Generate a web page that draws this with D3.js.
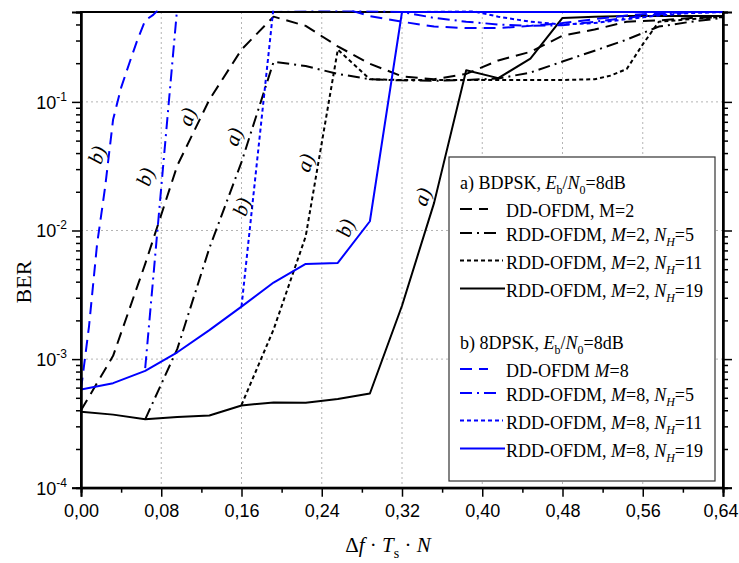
<!DOCTYPE html>
<html><head><meta charset="utf-8">
<script src="https://cdn.jsdelivr.net/npm/d3@7"></script>
<style>body{margin:0;background:#fff}</style>
</head><body>
<svg id="c" width="739" height="563"></svg>
<script>
// ---------- data ----------
const xMajorTicks = [0, 0.08, 0.16, 0.24, 0.32, 0.40, 0.48, 0.56, 0.64];
const xMinorTicks = [0.04, 0.12, 0.20, 0.28, 0.36, 0.44, 0.52, 0.60];
const xTickLabels = ["0,00","0,08","0,16","0,24","0,32","0,40","0,48","0,56","0,64"];
const yMajorTicks = [1e-4, 1e-3, 1e-2, 1e-1];
const yTickExponents = ["-4", "-3", "-2", "-1"];
const yMinorMultipliers = [2,3,4,5,6,7,8,9];

// a) BDPSK, M=2
const ddM2X  = [0,0.032,0.064,0.096,0.128,0.16,0.192,0.224,0.256,0.288,0.32,0.352,0.384,0.416,0.448,0.48,0.512,0.544,0.576,0.608,0.64];
const ddM2Y  = [4.0e-4,1.06e-3,5.5e-3,3.2e-2,0.104,0.255,0.46,0.39,0.27,0.198,0.158,0.15,0.165,0.21,0.245,0.327,0.365,0.42,0.43,0.45,0.455];
const rdd2h5X = [0.064,0.096,0.128,0.16,0.192,0.224,0.256,0.288,0.32,0.352,0.384,0.416,0.448,0.48,0.512,0.544,0.576,0.608,0.64];
const rdd2h5Y = [3.4e-4,1.2e-3,7.3e-3,3.4e-2,0.205,0.19,0.165,0.15,0.147,0.146,0.148,0.152,0.169,0.206,0.25,0.305,0.385,0.42,0.45];
const rdd2h11X = [0.16,0.192,0.224,0.256,0.288,0.32,0.352,0.384,0.416,0.448,0.48,0.512,0.528,0.544,0.56,0.576,0.608,0.64];
const rdd2h11Y = [4.4e-4,1.7e-3,9e-3,0.255,0.15,0.148,0.148,0.148,0.148,0.148,0.148,0.15,0.16,0.18,0.28,0.42,0.44,0.46];
const rdd2h19X = [0,0.032,0.064,0.096,0.128,0.16,0.192,0.224,0.256,0.288,0.32,0.352,0.384,0.416,0.448,0.48,0.512,0.544,0.576,0.608,0.64];
const rdd2h19Y = [3.9e-4,3.7e-4,3.4e-4,3.55e-4,3.64e-4,4.36e-4,4.6e-4,4.57e-4,4.9e-4,5.4e-4,2.6e-3,1.64e-2,0.176,0.153,0.217,0.45,0.46,0.465,0.465,0.465,0.465];

// b) 8DPSK, M=8
const ddM8X  = [0,0.008,0.016,0.024,0.032,0.040,0.048,0.056,0.064,0.072,0.080,0.256,0.288,0.32,0.352,0.384,0.416,0.448,0.48,0.512,0.544,0.576,0.608,0.64];
const ddM8Y  = [5.8e-4,1.8e-3,7.8e-3,2.16e-2,7.3e-2,0.129,0.198,0.30,0.43,0.475,0.55,0.55,0.465,0.42,0.385,0.375,0.375,0.39,0.41,0.44,0.47,0.49,0.5,0.5];
const rdd8h5X = [0.064,0.096,0.32,0.352,0.384,0.416,0.448,0.48,0.512,0.544,0.576,0.608,0.64];
const rdd8h5Y = [8.5e-4,0.55,0.5,0.45,0.42,0.40,0.39,0.395,0.42,0.45,0.48,0.5,0.5];
const rdd8h11X = [0.16,0.192,0.384,0.416,0.448,0.48,0.512,0.544,0.576,0.608,0.64];
const rdd8h11Y = [2.56e-3,0.55,0.52,0.46,0.42,0.40,0.41,0.44,0.47,0.49,0.5];
const rdd8h19X = [0,0.032,0.064,0.096,0.128,0.16,0.192,0.224,0.256,0.288,0.32,0.352,0.384,0.416,0.448,0.48,0.512,0.544,0.576,0.608,0.64];
const rdd8h19Y = [5.8e-4,6.5e-4,8.1e-4,1.13e-3,1.68e-3,2.56e-3,3.94e-3,5.5e-3,5.6e-3,1.18e-2,0.5,0.5,0.5,0.5,0.5,0.5,0.5,0.5,0.5,0.5,0.5];

// curve annotations
const noteText = ["b)","b)","a)","a)","b)","a)","b)","a)"];
const noteX = [0.0157,0.0638,0.1054,0.1518,0.160,0.2233,0.2632,0.340];
const noteY = [0.0388,0.0262,0.0767,0.0537,0.0153,0.0337,0.0105,0.0183];

// ---------- chart ----------
const svg = d3.select("#c");
const L = 81, R = 723, T = 12, B = 487.7;
const x = d3.scaleLinear().domain([0, 0.64]).range([L, R]);
const y = d3.scaleLog().domain([1e-4, 0.5]).range([B, T]);

const BLACK = "#000", BLUE = "#0000ff";
const DASH = "12,7", DASHDOT = "12,5,2,5", DOT = "4,3";

const series = [
  {xs: ddM2X, ys: ddM2Y, color: BLACK, dash: DASH},
  {xs: rdd2h5X, ys: rdd2h5Y, color: BLACK, dash: DASHDOT},
  {xs: rdd2h11X, ys: rdd2h11Y, color: BLACK, dash: DOT},
  {xs: rdd2h19X, ys: rdd2h19Y, color: BLACK, dash: null},
  {xs: ddM8X, ys: ddM8Y, color: BLUE, dash: DASH},
  {xs: rdd8h5X, ys: rdd8h5Y, color: BLUE, dash: DASHDOT},
  {xs: rdd8h11X, ys: rdd8h11Y, color: BLUE, dash: DOT},
  {xs: rdd8h19X, ys: rdd8h19Y, color: BLUE, dash: null}
];

// grid
const grid = svg.append("g").attr("stroke", "#b4b4b4").attr("stroke-width", 1).attr("stroke-dasharray", "2,3");
xMajorTicks.slice(1, -1).forEach(v => grid.append("line").attr("x1", x(v)).attr("x2", x(v)).attr("y1", T).attr("y2", B));
yMajorTicks.slice(1).forEach(v => grid.append("line").attr("x1", L).attr("x2", R).attr("y1", y(v)).attr("y2", y(v)));

// clip
svg.append("clipPath").attr("id", "pc").append("rect").attr("x", L).attr("y", T - 1.5).attr("width", R - L).attr("height", B - T + 1.5);

// frame
svg.append("rect").attr("x", L).attr("y", T).attr("width", R - L).attr("height", B - T)
  .attr("fill", "none").attr("stroke", "#000").attr("stroke-width", 2);

// lines
const line = d3.line().x(d => x(d[0])).y(d => y(d[1]));
const lg = svg.append("g").attr("clip-path", "url(#pc)");
series.forEach(s => {
  lg.append("path").datum(d3.zip(s.xs, s.ys)).attr("d", line)
    .attr("fill", "none").attr("stroke", s.color).attr("stroke-width", 2)
    .attr("stroke-dasharray", s.dash).attr("stroke-linejoin", "round");
});

// axes
const tickStyle = g => { g.select(".domain").attr("stroke-width", 2); g.selectAll(".tick line").attr("stroke-width", 1.5); };
svg.append("g").attr("transform", `translate(0,${B})`)
  .call(d3.axisBottom(x).tickValues(xMajorTicks).tickSize(9).tickPadding(8).tickFormat((d, i) => xTickLabels[i]))
  .call(tickStyle)
  .call(g => g.selectAll("text").attr("font-family", "Liberation Sans, Arial, sans-serif").attr("font-size", 18).attr("fill", "#000"))
  .call(g => g.selectAll(".tick").filter(d => d === 0.64).select("text").attr("text-anchor", "end").attr("x", 15));
svg.append("g").attr("transform", `translate(0,${B})`)
  .call(d3.axisBottom(x).tickValues(xMinorTicks).tickSize(5).tickFormat(""))
  .call(tickStyle);

const yMinor = [];
yMajorTicks.forEach(d => yMinorMultipliers.forEach(m => { if (d * m <= 0.5) yMinor.push(d * m); }));
[["left", d3.axisLeft, L], ["right", d3.axisRight, R]].forEach(([nm, ax, pos]) => {
  svg.append("g").attr("transform", `translate(${pos},0)`)
    .call(ax(y).tickValues(yMajorTicks).tickSize(9).tickFormat(""))
    .call(tickStyle);
  svg.append("g").attr("transform", `translate(${pos},0)`)
    .call(ax(y).tickValues(yMinor).tickSize(5).tickFormat(""))
    .call(tickStyle);
});

// y tick labels 10^n
yMajorTicks.forEach((v, i) => {
  const t = svg.append("text").attr("x", 67).attr("y", y(v) + 7)
    .attr("text-anchor", "end").attr("font-family", "Liberation Sans, Arial, sans-serif").attr("font-size", 18);
  t.append("tspan").text("10");
  t.append("tspan").attr("font-size", 12).attr("dy", -8).text(yTickExponents[i]);
});

// axis titles
svg.append("text").attr("transform", "translate(31,282) rotate(-90)").attr("text-anchor", "middle")
  .attr("font-family", "Liberation Serif, Times New Roman, serif").attr("font-size", 22).text("BER");

const xt = svg.append("text").attr("x", 388).attr("y", 552).attr("text-anchor", "middle")
  .attr("font-family", "Liberation Serif, Times New Roman, serif").attr("font-size", 21);
xt.append("tspan").text("Δ");
xt.append("tspan").attr("font-style", "italic").text("f");
xt.append("tspan").text(" · ");
xt.append("tspan").attr("font-style", "italic").text("T");
xt.append("tspan").attr("font-size", 14).attr("dy", 6).text("s");
xt.append("tspan").attr("dy", -6).text(" · ");
xt.append("tspan").attr("font-style", "italic").text("N");

// curve notes
noteText.forEach((t, i) => {
  svg.append("text").attr("transform", `translate(${x(noteX[i])},${y(noteY[i])}) rotate(-72)`)
    .attr("text-anchor", "middle").attr("dy", "0.35em")
    .attr("font-family", "Liberation Serif, Times New Roman, serif").attr("font-style", "italic").attr("font-size", 21)
    .text(t);
});

// legend
const leg = svg.append("g");
leg.append("rect").attr("x", 449).attr("y", 157).attr("width", 266).attr("height", 324)
  .attr("fill", "#fff").attr("stroke", "#333").attr("stroke-width", 1.2);

function rich(xp, yp, parts) {
  const t = leg.append("text").attr("x", xp).attr("y", yp).attr("dy", "0.35em")
    .attr("font-family", "Liberation Serif, Times New Roman, serif").attr("font-size", 18);
  let sub = false;
  parts.forEach(p => {
    const s = t.append("tspan").text(p.t);
    if (p.i) s.attr("font-style", "italic");
    if (p.s && !sub) { s.attr("dy", 5).attr("font-size", 12); sub = true; }
    else if (p.s) s.attr("font-size", 12);
    else if (sub) { s.attr("dy", -5); sub = false; }
  });
}
const header = k => [{t: k + ", "}, {t: "E", i: 1}, {t: "b", s: 1}, {t: "/"}, {t: "N", i: 1}, {t: "0", s: 1}, {t: "=8dB"}];
const rowA = [
  [{t: "DD-OFDM, M=2"}],
  [{t: "RDD-OFDM, "}, {t: "M", i: 1}, {t: "=2, "}, {t: "N", i: 1}, {t: "H", i: 1, s: 1}, {t: "=5"}],
  [{t: "RDD-OFDM, "}, {t: "M", i: 1}, {t: "=2, "}, {t: "N", i: 1}, {t: "H", i: 1, s: 1}, {t: "=11"}],
  [{t: "RDD-OFDM, "}, {t: "M", i: 1}, {t: "=2, "}, {t: "N", i: 1}, {t: "H", i: 1, s: 1}, {t: "=19"}]
];
const rowB = [
  [{t: "DD-OFDM "}, {t: "M", i: 1}, {t: "=8"}],
  [{t: "RDD-OFDM, "}, {t: "M", i: 1}, {t: "=8, "}, {t: "N", i: 1}, {t: "H", i: 1, s: 1}, {t: "=5"}],
  [{t: "RDD-OFDM, "}, {t: "M", i: 1}, {t: "=8, "}, {t: "N", i: 1}, {t: "H", i: 1, s: 1}, {t: "=11"}],
  [{t: "RDD-OFDM, "}, {t: "M", i: 1}, {t: "=8, "}, {t: "N", i: 1}, {t: "H", i: 1, s: 1}, {t: "=19"}]
];
const rowOff = [28, 52, 79.5, 107.5];
const sampleLen = [28, 38, 43, 45];
[[183, "a) BDPSK", 0, BLACK, rowA], [343, "b) 8DPSK", 4, BLUE, rowB]].forEach(([y0, h, si, col, rows]) => {
  rich(460, y0, header(h));
  rows.forEach((r, j) => {
    const yy = y0 + rowOff[j] - 2;
    leg.append("line").attr("x1", 460).attr("x2", 460 + sampleLen[j]).attr("y1", yy).attr("y2", yy)
      .attr("stroke", col).attr("stroke-width", 2).attr("stroke-dasharray", series[si + j].dash);
    rich(506, y0 + rowOff[j], r);
  });
});
</script>
</body></html>
